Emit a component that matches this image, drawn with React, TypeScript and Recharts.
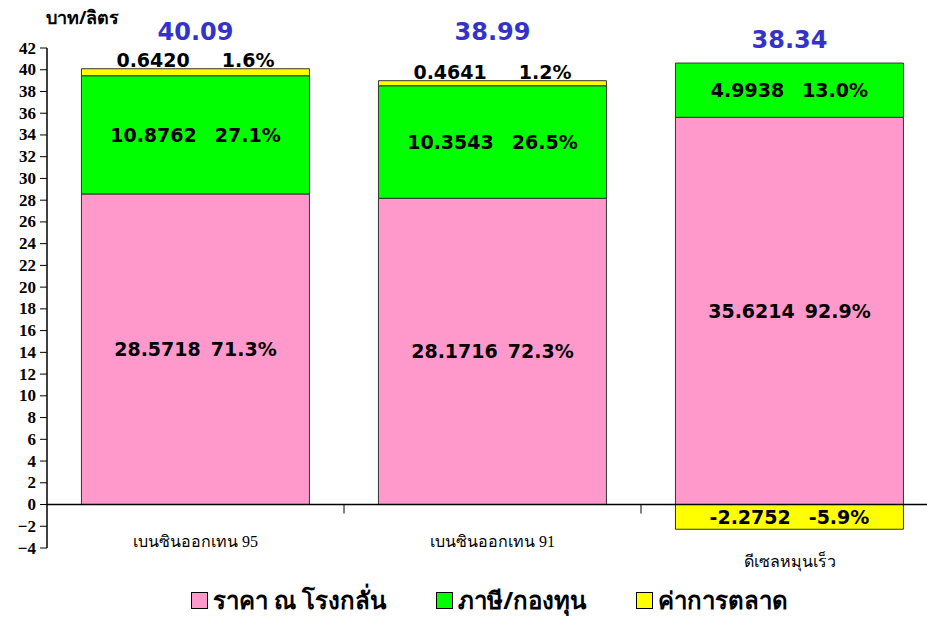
import React from 'react';
import { BarChart, Bar, XAxis, YAxis, ReferenceLine, LabelList } from 'recharts';

const categories = ['เบนซินออกเทน 95', 'เบนซินออกเทน 91', 'ดีเซลหมุนเร็ว'];
const refineryPrice = [28.5718, 28.1716, 35.6214];
const taxFund = [10.8762, 10.3543, 4.9938];
const marketing = [0.642, 0.4641, -2.2752];
const refineryPct = [71.3, 72.3, 92.9];
const taxPct = [27.1, 26.5, 13.0];
const marketingPct = [1.6, 1.2, -5.9];
const totals = ['40.09', '38.99', '38.34'];
const yTicks = [-4, -2, 0, 2, 4, 6, 8, 10, 12, 14, 16, 18, 20, 22, 24, 26, 28, 30, 32, 34, 36, 38, 40, 42];

const seriesNames = ['ราคา ณ โรงกลั่น', 'ภาษี/กองทุน', 'ค่าการตลาด'];
const seriesColors = ['#FF99CC', '#00FF00', '#FFFF00'];

const data = categories.map((name, i) => ({
  name,
  refinery: refineryPrice[i],
  tax: taxFund[i],
  marketing: marketing[i],
}));

const labelFont = "'DejaVu Sans', Verdana, sans-serif";
const serifFont = "'Liberation Serif', 'DejaVu Serif', serif";

const segmentLabel = (pcts: number[], gap: number, above?: boolean) => (props: any) => {
  const { x, y, width, height, index, value } = props;
  const top = Math.min(y, y + height);
  const cx = x + width / 2;
  const outside = above && value > 0;
  const cy = outside ? top - 9 : y + height / 2;
  const g = outside ? 32 : value < 0 ? 18 : gap;
  return (
    <text
      x={cx}
      y={cy}
      textAnchor="middle"
      dominantBaseline="central"
      fontFamily={labelFont}
      fontWeight="bold"
      fontSize={19}
      fill="#000"
    >
      <tspan>{Number(value).toFixed(4)}</tspan>
      <tspan dx={g}>{pcts[index].toFixed(1)}%</tspan>
    </text>
  );
};

const totalLabel = (props: any) => {
  const { x, width, index } = props;
  return (
    <text
      x={x + width / 2}
      y={index === 2 ? 40 : 32}
      textAnchor="middle"
      dominantBaseline="central"
      fontFamily={labelFont}
      fontWeight="bold"
      fontSize={24}
      fill="#3333CC"
    >
      {totals[index]}
    </text>
  );
};

const CategoryTick = (props: any) => {
  const { x, y, payload, index } = props;
  return (
    <text
      x={x}
      y={index === 2 ? y + 5 : y - 15}
      textAnchor="middle"
      dominantBaseline="central"
      fontFamily={serifFont}
      fontSize={16}
      fill="#000"
    >
      {payload.value}
    </text>
  );
};

const ValueTick = (props: any) => {
  const { x, y, payload } = props;
  return (
    <text
      x={x - 2}
      y={y}
      textAnchor="end"
      dominantBaseline="central"
      fontFamily={serifFont}
      fontWeight="bold"
      fontSize={17}
      fill="#000"
    >
      {String(payload.value).replace('-', '−')}
    </text>
  );
};

const ZeroLine = (props: any) => {
  const { x1, y1, x2 } = props;
  const step = (x2 - x1) / categories.length;
  return (
    <g>
      <line x1={x1} y1={y1} x2={x2} y2={y1} stroke="#000" strokeWidth={1.5} />
      {categories.slice(1).map((_, i) => (
        <line key={i} x1={x1 + step * (i + 1)} y1={y1} x2={x1 + step * (i + 1)} y2={y1 + 9} stroke="#000" strokeWidth={1} />
      ))}
    </g>
  );
};

export default function App() {
  return (
    <div style={{ position: 'fixed', left: 0, top: 0, width: 927, height: 617, overflow: 'hidden', background: '#fff' }}>
      <BarChart
        width={938}
        height={617}
        data={data}
        stackOffset="sign"
        barCategoryGap="11.6%"
        margin={{ top: 48, right: 0, left: 0, bottom: 39 }}
      >
        <XAxis dataKey="name" axisLine={false} tickLine={false} height={30} tick={<CategoryTick />} interval={0} />
        <YAxis
          width={47}
          domain={[-4, 42]}
          ticks={yTicks}
          interval={0}
          tickSize={7}
          axisLine={{ stroke: '#000', strokeWidth: 1.5 }}
          tickLine={{ stroke: '#000' }}
          tick={<ValueTick />}
        />
        <Bar dataKey="refinery" name={seriesNames[0]} stackId="a" fill={seriesColors[0]} stroke="#333" strokeWidth={1} isAnimationActive={false}>
          <LabelList dataKey="refinery" content={segmentLabel(refineryPct, 10)} />
        </Bar>
        <Bar dataKey="tax" name={seriesNames[1]} stackId="a" fill={seriesColors[1]} stroke="#333" strokeWidth={1} isAnimationActive={false}>
          <LabelList dataKey="tax" content={segmentLabel(taxPct, 18)} />
          <LabelList dataKey="tax" content={totalLabel} />
        </Bar>
        <Bar dataKey="marketing" name={seriesNames[2]} stackId="a" fill={seriesColors[2]} stroke="#333" strokeWidth={1} isAnimationActive={false}>
          <LabelList dataKey="marketing" content={segmentLabel(marketingPct, 18, true)} />
        </Bar>
        <ReferenceLine y={0} shape={<ZeroLine />} />
      </BarChart>
      <div
        style={{
          position: 'absolute',
          left: 46,
          top: 8,
          lineHeight: 1,
          fontFamily: "'Noto Sans', sans-serif",
          fontWeight: 'bold',
          fontSize: 18,
          color: '#000',
        }}
      >
        บาท/ลิตร
      </div>
      <div
        style={{
          position: 'absolute',
          left: 0,
          width: 927,
          top: 586,
          display: 'flex',
          justifyContent: 'center',
          gap: 50,
          paddingLeft: 52,
          boxSizing: 'border-box',
          fontFamily: "'Noto Sans', sans-serif",
          fontWeight: 'bold',
          fontSize: 24,
          lineHeight: 1.2,
          color: '#000',
        }}
      >
        {seriesNames.map((n, i) => (
          <div key={n} style={{ display: 'flex', alignItems: 'center', gap: 5 }}>
            <span style={{ display: 'inline-block', width: 15, height: 15, background: seriesColors[i], border: '1px solid #000' }} />
            <span>{n}</span>
          </div>
        ))}
      </div>
    </div>
  );
}
